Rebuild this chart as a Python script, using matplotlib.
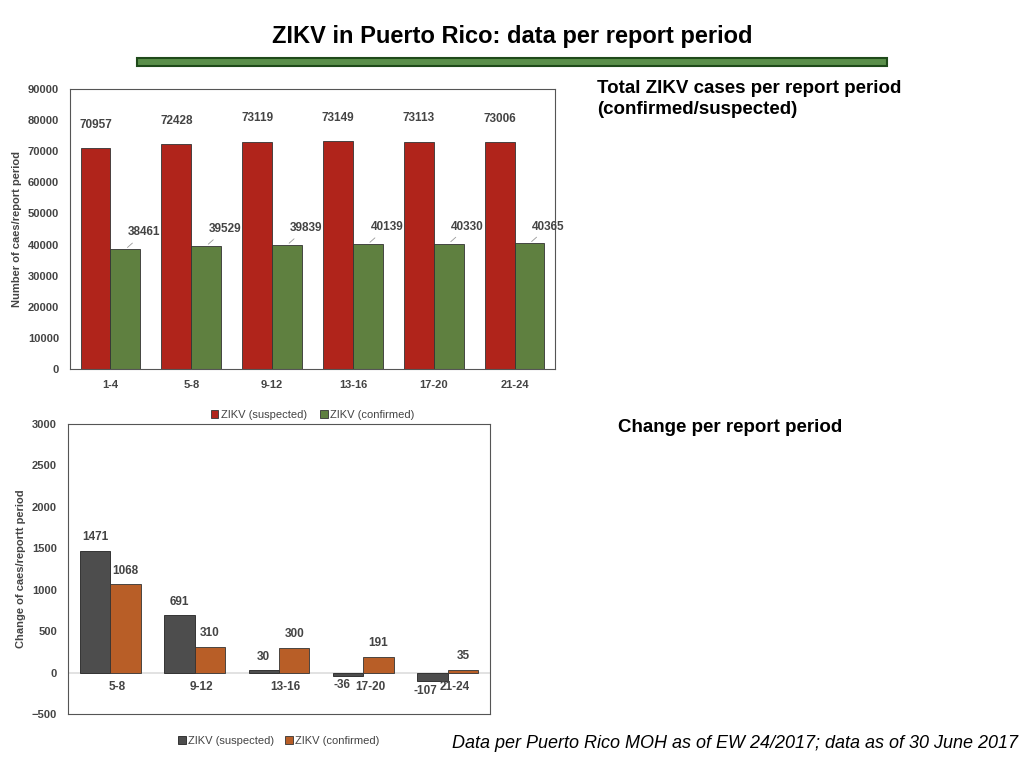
import matplotlib
matplotlib.use("Agg")
import matplotlib.pyplot as plt
from matplotlib.patches import Rectangle
import numpy as np

periods = ["1-4", "5-8", "9-12", "13-16", "17-20", "21-24"]
suspected = [70957, 72428, 73119, 73149, 73113, 73006]
confirmed = [38461, 39529, 39839, 40139, 40330, 40365]

chg_periods = ["5-8", "9-12", "13-16", "17-20", "21-24"]
chg_suspected = [1471, 691, 30, -36, -107]
chg_confirmed = [1068, 310, 300, 191, 35]

plt.rcParams['font.family'] = ['Liberation Sans', 'DejaVu Sans']
fig = plt.figure(figsize=(10.24, 7.68), dpi=100)

fig.text(0.5, 0.953, "ZIKV in Puerto Rico: data per report period", ha='center', va='center',
         fontsize=17, fontweight='bold')
fig.patches.append(Rectangle((137/1024, 1-66/768), 750/1024, 8/768, transform=fig.transFigure,
                             facecolor='#5a8f4a', edgecolor='#1f4a1a', linewidth=1.5))
fig.text(597/1024, 1-99/768, "Total ZIKV cases per report period\n(confirmed/suspected)",
         ha='left', va='center', fontsize=13.5, fontweight='bold', linespacing=1.3)
fig.text(618/1024, 1-427/768, "Change per report period", ha='left', va='center',
         fontsize=13.5, fontweight='bold')
fig.text(1018/1024, 1-744/768, "Data per Puerto Rico MOH as of EW 24/2017; data as of 30 June 2017",
         ha='right', va='center', fontsize=13, style='italic')

tc = '#444444'
# top chart
ax = fig.add_axes([70/1024, 1-369/768, 485/1024, 280/768])
x = np.arange(len(periods))
w = 0.37
ax.bar(x - w/2, suspected, w, color='#b0241b', edgecolor='#333333', linewidth=0.6, label='ZIKV (suspected)')
ax.bar(x + w/2, confirmed, w, color='#5f8040', edgecolor='#333333', linewidth=0.6, label='ZIKV (confirmed)')
for i in range(len(x)):
    ax.text(x[i] - w/2, suspected[i] + 5500, str(suspected[i]), ha='center', va='bottom',
            fontsize=8.5, fontweight='bold', color=tc)
    ax.annotate(str(confirmed[i]), xy=(x[i] + w/2, confirmed[i]), xytext=(x[i] + 0.42, confirmed[i] + 3500),
                ha='center', va='bottom', fontsize=8.5, fontweight='bold', color=tc,
                arrowprops=dict(arrowstyle='-', color='#999999', lw=0.6))
ax.set_ylim(0, 90000)
ax.set_yticks(range(0, 90001, 10000))
ax.set_xlim(-0.5, len(x) - 0.5)
ax.set_xticks(x)
ax.set_xticklabels(periods)
ax.set_ylabel("Number of caes/report period", fontsize=8, fontweight='bold', color=tc)
ax.tick_params(length=0, labelsize=8, labelcolor=tc, pad=8)
for t in ax.get_xticklabels() + ax.get_yticklabels():
    t.set_fontweight('bold')
for s in ax.spines.values():
    s.set_color('#555555')
ax.legend(loc='upper center', bbox_to_anchor=(0.5, -0.11), ncol=2, frameon=False, fontsize=8,
          handlelength=0.7, handleheight=0.7, labelcolor=tc, handletextpad=0.2, columnspacing=1.2)

# bottom chart
ax2 = fig.add_axes([68/1024, 1-714/768, 422/1024, 290/768])
x2 = np.arange(len(chg_periods))
w2 = 0.36
ax2.bar(x2 - w2/2, chg_suspected, w2, color='#4d4d4d', edgecolor='#222222', linewidth=0.6, label='ZIKV (suspected)')
ax2.bar(x2 + w2/2, chg_confirmed, w2, color='#b85e27', edgecolor='#333333', linewidth=0.6, label='ZIKV (confirmed)')
for i in range(len(x2)):
    for xv, v in ((x2[i] - w2/2, chg_suspected[i]), (x2[i] + w2/2, chg_confirmed[i])):
        if v >= 0:
            ax2.text(xv, v + 90, str(v), ha='center', va='bottom', fontsize=8.5, fontweight='bold', color=tc)
        else:
            ax2.text(xv - 0.08, v - 40, str(v), ha='center', va='top', fontsize=8.5, fontweight='bold', color=tc)
ax2.axhline(0, color='#dddddd', lw=1.2, zorder=0)
ax2.set_ylim(-500, 3000)
ax2.set_yticks(range(-500, 3001, 500))
ax2.set_xlim(-0.5, len(x2) - 0.5)
ax2.set_xticks([])
for i, p in enumerate(chg_periods):
    ax2.text(x2[i] + 0.08, -100, p, ha='center', va='top', fontsize=8.5, fontweight='bold', color=tc)
ax2.set_ylabel("Change of caes/reportt period", fontsize=8, fontweight='bold', color=tc)
ax2.tick_params(length=0, labelsize=8, labelcolor=tc, pad=8)
for t in ax2.get_yticklabels():
    t.set_fontweight('bold')
for s in ax2.spines.values():
    s.set_color('#555555')
ax2.legend(loc='upper center', bbox_to_anchor=(0.5, -0.04), ncol=2, frameon=False, fontsize=8,
           handlelength=0.7, handleheight=0.7, labelcolor=tc, columnspacing=1.0, handletextpad=0.2)

fig.savefig("out.png", dpi=100)
